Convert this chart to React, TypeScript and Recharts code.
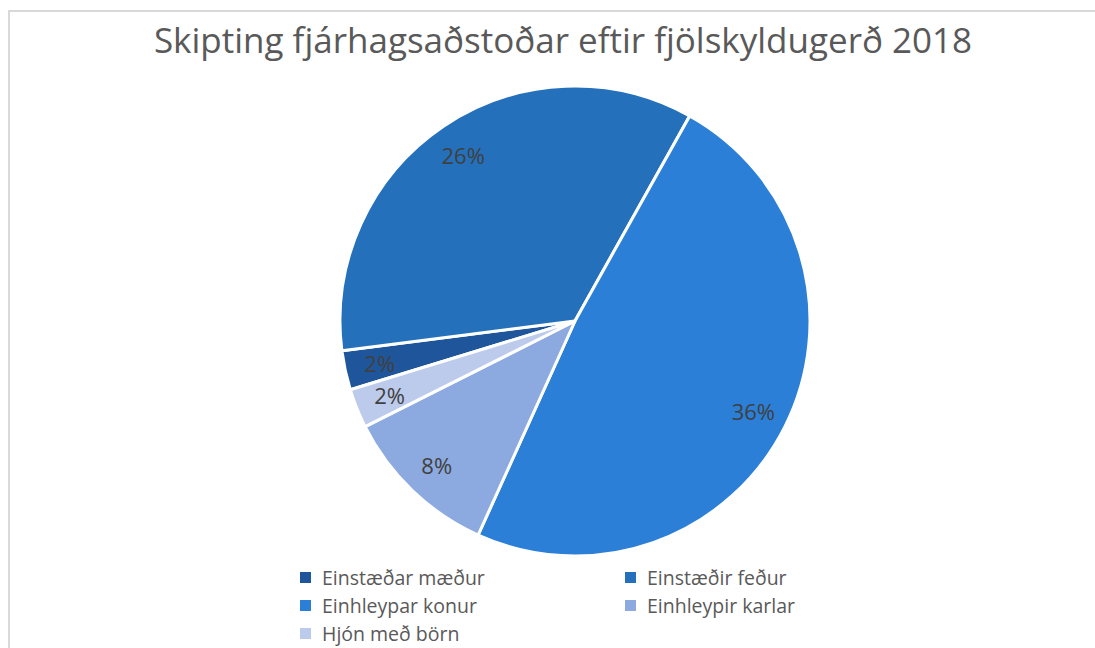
import React from 'react';
import { PieChart, Pie, Cell } from 'recharts';

// Skipting fjárhagsaðstoðar eftir fjölskyldugerð 2018
const categories = ['Einstæðar mæður', 'Einstæðir feður', 'Einhleypar konur', 'Einhleypir karlar', 'Hjón með börn'];
const shares = [2, 26, 36, 8, 2];
const colours = ['#1f569b', '#2470bb', '#2b7fd7', '#8caadf', '#bccbeb'];

const data = categories.map((name, i) => ({ name, value: shares[i] }));

const font = '"Open Sans", "Noto Sans", sans-serif';
const RAD = Math.PI / 180;

function renderLabel(props: any) {
  const { cx, cy, midAngle, outerRadius, value } = props;
  const r = outerRadius * 0.85;
  const x = cx + r * Math.cos(-midAngle * RAD);
  const y = cy + r * Math.sin(-midAngle * RAD);
  return (
    <text x={x} y={y} fill="#404040" fontSize={22} fontFamily={font} textAnchor="middle" dominantBaseline="central">
      {value}%
    </text>
  );
}

function LegendBox() {
  // drawn in series order, as the original does
  return (
    <div style={{ position: 'absolute', left: 300, top: 563, display: 'grid', gridTemplateColumns: '325px 220px', fontFamily: font, fontSize: 19.5, color: '#595959' }}>
      {categories.map((name, i) => (
        <div key={name} style={{ display: 'flex', alignItems: 'center', height: 28 }}>
          <span style={{ width: 11, height: 11, background: colours[i], marginRight: 11, display: 'inline-block' }} />
          <span>{name}</span>
        </div>
      ))}
    </div>
  );
}

export default function App() {
  return (
    <div style={{ position: 'relative', width: 1095, height: 648, overflow: 'hidden', background: '#fff' }}>
      <style>{'body{margin:0;overflow:hidden}'}</style>
      <div style={{ position: 'absolute', left: 8, top: 10, width: 1200, height: 800, borderLeft: '2px solid #d9d9d9', borderTop: '2px solid #d9d9d9' }} />
      <div style={{ position: 'absolute', left: 0, top: 16, width: 1126, textAlign: 'center', fontFamily: font, fontSize: 35, color: '#595959', whiteSpace: 'nowrap' }}>
        Skipting fjárhagsaðstoðar eftir fjölskyldugerð 2018
      </div>
      <div style={{ position: 'absolute', left: 0, top: 0 }}>
        <PieChart width={1095} height={648} margin={{ top: 0, right: 0, bottom: 0, left: 0 }}>
          <Pie
            data={data}
            dataKey="value"
            nameKey="name"
            cx={575}
            cy={321}
            outerRadius={235}
            startAngle={-163}
            endAngle={-523}
            stroke="#ffffff"
            strokeWidth={3}
            label={renderLabel}
            labelLine={false}
            isAnimationActive={false}
          >
            {data.map((d, i) => (
              <Cell key={d.name} fill={colours[i]} />
            ))}
          </Pie>
        </PieChart>
      </div>
      <LegendBox />
    </div>
  );
}
